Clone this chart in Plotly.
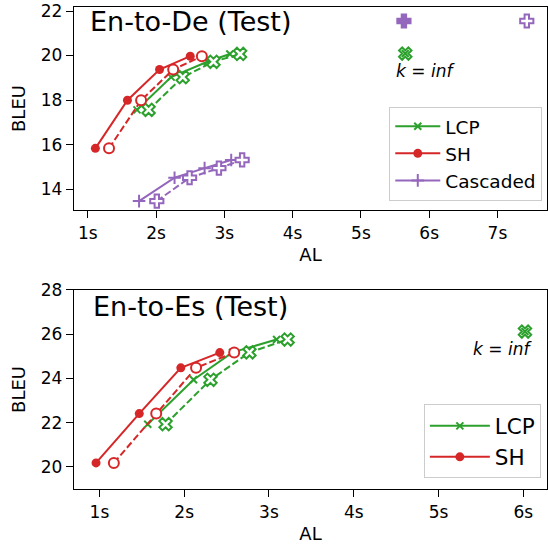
import plotly.graph_objects as go

# ---------------- data ----------------
# En-to-De (Test)
de_lcp_al = [1.72, 2.22, 2.75, 3.08]
de_lcp_al_ca = [1.89, 2.39, 2.84, 3.23]
de_lcp_bleu = [17.56, 19.03, 19.72, 20.07]
de_sh_al = [1.11, 1.58, 2.05, 2.50]
de_sh_al_ca = [1.31, 1.78, 2.25, 2.67]
de_sh_bleu = [15.83, 17.99, 19.37, 19.97]
de_cas_al = [1.75, 2.27, 2.71, 3.10]
de_cas_al_ca = [2.01, 2.49, 2.92, 3.26]
de_cas_bleu = [13.46, 14.51, 14.94, 15.31]
de_lcp_inf_al = [5.65]
de_lcp_inf_bleu = [20.09]
de_cas_inf_al = [5.63]
de_cas_inf_al_ca = [7.43]
de_cas_inf_bleu = [21.55]

# En-to-Es (Test)
es_lcp_al = [1.57, 2.11, 2.57, 3.09]
es_lcp_al_ca = [1.78, 2.31, 2.77, 3.22]
es_lcp_bleu = [21.93, 23.94, 25.18, 25.76]
es_sh_al = [0.96, 1.47, 1.96, 2.42]
es_sh_al_ca = [1.17, 1.67, 2.14, 2.59]
es_sh_bleu = [20.18, 22.41, 24.48, 25.17]
es_lcp_inf_al = [6.02]
es_lcp_inf_bleu = [26.12]

x_ticks_top = [1, 2, 3, 4, 5, 6, 7]
x_ticks_bot = [1, 2, 3, 4, 5, 6]
y_ticks_top = [14, 16, 18, 20, 22]
y_ticks_bot = [20, 22, 24, 26, 28]

GREEN = "#2ca02c"
RED = "#d62728"
PURPLE = "#9467bd"
FONT = "DejaVu Sans"
DASH = "7px,3px"

fig = go.Figure()


def solid(x, y, color, symbol, size, name, xa, ya, legend, show, lw=0):
    fig.add_trace(go.Scatter(
        x=x, y=y, mode="lines+markers", name=name,
        line=dict(color=color, width=2),
        marker=dict(symbol=symbol, size=size, color=color,
                    line=dict(color=color, width=lw)),
        xaxis=xa, yaxis=ya, legend=legend, showlegend=show))


def dashed(x, y, color, symbol, size, xa, ya):
    fig.add_trace(go.Scatter(
        x=x, y=y, mode="lines+markers",
        line=dict(color=color, width=2, dash=DASH),
        marker=dict(symbol=symbol, size=size, color="white",
                    line=dict(color=color, width=2)),
        xaxis=xa, yaxis=ya, showlegend=False))


def point(x, y, color, symbol, size, fill, xa, ya, lw=2):
    fig.add_trace(go.Scatter(
        x=x, y=y, mode="markers",
        marker=dict(symbol=symbol, size=size, color=fill,
                    line=dict(color=color, width=lw)),
        xaxis=xa, yaxis=ya, showlegend=False))


# top panel
solid(de_lcp_al, de_lcp_bleu, GREEN, "x-thin", 7, "LCP", "x", "y", "legend", True, 2)
dashed(de_lcp_al_ca, de_lcp_bleu, GREEN, "x", 11, "x", "y")
solid(de_sh_al, de_sh_bleu, RED, "circle", 9, "SH", "x", "y", "legend", True)
dashed(de_sh_al_ca, de_sh_bleu, RED, "circle", 10, "x", "y")
solid(de_cas_al, de_cas_bleu, PURPLE, "cross-thin", 9, "Cascaded", "x", "y", "legend", True, 2)
dashed(de_cas_al_ca, de_cas_bleu, PURPLE, "cross", 11, "x", "y")
point(de_lcp_inf_al, de_lcp_inf_bleu, GREEN, "x", 11, "white", "x", "y")
point(de_lcp_inf_al, de_lcp_inf_bleu, GREEN, "x-thin", 7, GREEN, "x", "y")
point(de_cas_inf_al, de_cas_inf_bleu, PURPLE, "cross", 11, PURPLE, "x", "y")
point(de_cas_inf_al_ca, de_cas_inf_bleu, PURPLE, "cross", 11, "white", "x", "y")

# bottom panel
solid(es_lcp_al, es_lcp_bleu, GREEN, "x-thin", 7, "LCP", "x2", "y2", "legend2", True, 2)
dashed(es_lcp_al_ca, es_lcp_bleu, GREEN, "x", 11, "x2", "y2")
solid(es_sh_al, es_sh_bleu, RED, "circle", 9, "SH", "x2", "y2", "legend2", True)
dashed(es_sh_al_ca, es_sh_bleu, RED, "circle", 10, "x2", "y2")
point(es_lcp_inf_al, es_lcp_inf_bleu, GREEN, "x", 11, "white", "x2", "y2")
point(es_lcp_inf_al, es_lcp_inf_bleu, GREEN, "x-thin", 7, GREEN, "x2", "y2")

axis_common = dict(showline=True, linecolor="black", linewidth=1.3, mirror=True,
                   ticks="outside", ticklen=7, tickwidth=1.3, tickcolor="black",
                   showgrid=False, zeroline=False, automargin=False,
                   tickfont=dict(family=FONT, size=17, color="black"))

fig.update_layout(
    width=548, height=549,
    margin=dict(l=74, r=1, t=7, b=60),
    paper_bgcolor="white", plot_bgcolor="white",
    font=dict(family=FONT, color="black"),
    xaxis=dict(domain=[0, 1], range=[0.797, 7.726], tickvals=x_ticks_top,
               ticktext=[f"{v}s" for v in x_ticks_top], anchor="y",
               title=dict(text="AL", font=dict(family=FONT, size=18), standoff=6),
               **axis_common),
    yaxis=dict(domain=[0.5788, 1], range=[13.06, 22.18], tickvals=y_ticks_top,
               anchor="x",
               title=dict(text="BLEU", font=dict(family=FONT, size=18), standoff=10),
               **axis_common),
    xaxis2=dict(domain=[0, 1], range=[0.70, 6.28], tickvals=x_ticks_bot,
                ticktext=[f"{v}s" for v in x_ticks_bot], anchor="y2",
                title=dict(text="AL", font=dict(family=FONT, size=18), standoff=6),
                **axis_common),
    yaxis2=dict(domain=[0, 0.4129], range=[19.0, 28.0], tickvals=y_ticks_bot,
                anchor="x2",
                title=dict(text="BLEU", font=dict(family=FONT, size=18), standoff=10),
                **axis_common),
    legend=dict(x=0.990, y=0.598, xanchor="right", yanchor="bottom",
                bgcolor="rgba(255,255,255,0.8)", bordercolor="#cccccc", borderwidth=1,
                font=dict(family=FONT, size=18.5, color="black"),
                tracegroupgap=4, itemwidth=45),
    legend2=dict(x=0.987, y=0.022, xanchor="right", yanchor="bottom",
                 bgcolor="rgba(255,255,255,0.8)", bordercolor="#cccccc", borderwidth=1,
                 font=dict(family=FONT, size=21.5, color="black"),
                 itemwidth=60),
    annotations=[
        dict(text="En-to-De (Test)", xref="x domain", yref="y domain", x=0.03, y=1.015,
             xanchor="left", yanchor="top", showarrow=False,
             font=dict(family=FONT, size=27, color="black")),
        dict(text="En-to-Es (Test)", xref="x2 domain", yref="y2 domain", x=0.035, y=1.005,
             xanchor="left", yanchor="top", showarrow=False,
             font=dict(family=FONT, size=27, color="black")),
        dict(text="<i>k</i> = <i>inf</i>", xref="x", yref="y", x=5.94, y=19.3,
             showarrow=False, font=dict(family=FONT, size=17, color="black")),
        dict(text="<i>k</i> = <i>inf</i>", xref="x2", yref="y2", x=5.76, y=25.32,
             showarrow=False, font=dict(family=FONT, size=17, color="black")),
    ],
)

fig.write_html(
    "out.html",
    config={"displayModeBar": False},
    post_script="document.body.style.margin='0';document.body.style.padding='0';"
                "document.documentElement.style.overflow='hidden';",
)
